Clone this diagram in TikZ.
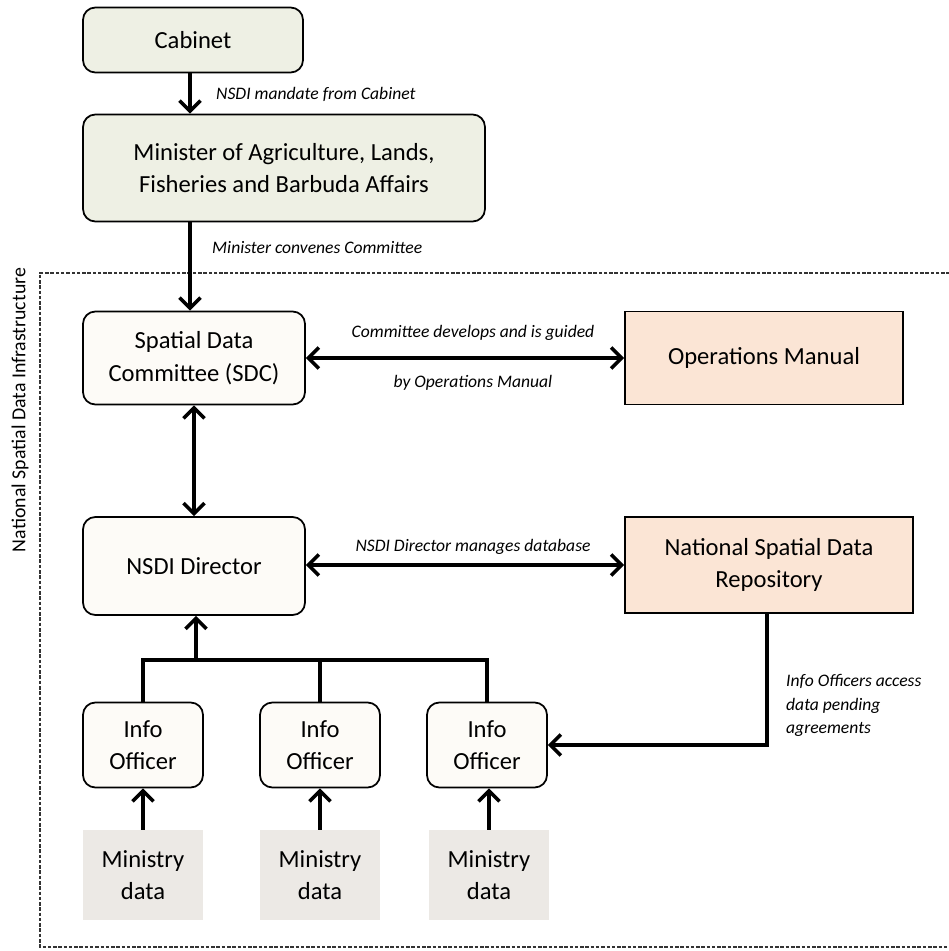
\documentclass[tikz,border=0pt]{standalone}
\usepackage{fontspec}
\setmainfont{Carlito}
\usetikzlibrary{arrows.meta}

\definecolor{govgreen}{HTML}{EEF0E4}
\definecolor{nsdicream}{HTML}{FDFBF7}
\definecolor{docpeach}{HTML}{FBE5D5}
\definecolor{datagray}{HTML}{ECE9E5}

\begin{document}
\begin{tikzpicture}[x=0.02cm, y=-0.02cm,
	every node/.style={align=center, font=\fontsize{14}{18.5}\selectfont},
	govbox/.style={draw, rounded corners=7pt, line width=1pt, fill=govgreen},
	nsdibox/.style={draw, rounded corners=7pt, line width=1pt, fill=nsdicream},
	docbox/.style={draw, line width=1pt, fill=docpeach},
	databox/.style={fill=datagray, minimum width=2.4cm, minimum height=1.8cm},
	lbl/.style={font=\fontsize{10}{13.5}\selectfont\itshape},
	flow/.style={line width=2pt, -{Straight Barb[length=6pt, width=12pt]}},
	twoway/.style={line width=2pt, {Straight Barb[length=6pt, width=12pt]}-{Straight Barb[length=6pt, width=12pt]}}
	]
	\useasboundingbox (0,0) rectangle (948,951);
	
	% Governo
	\node[govbox, minimum width=4.4cm, minimum height=1.3cm] (cab) at (193,40) {Cabinet};
	\node[govbox, minimum width=8.04cm, minimum height=2.14cm] (min) at (284,168) {Minister of Agriculture, Lands,\\Fisheries and Barbuda Affairs};
	\draw[flow] (cab.south -| 190,0) -- (min.north -| 190,0);
	\node[lbl, anchor=west] (l1) at (210,94) {NSDI mandate from Cabinet};
	
	% Infrastruttura (riquadro tratteggiato)
	\draw[gray!40!black, line width=0.6pt, dash pattern=on 2pt off 1pt] (950,273) -- (40,273) -- (40,947) -- (950,947);
	\node[rotate=90, font=\fontsize{11.3}{14}\selectfont] (infra) at (20,410) {National Spatial Data Infrastructure};
	
	% Comitato e manuale
	\node[nsdibox, minimum width=4.44cm, minimum height=1.86cm] (sdc) at (194,358) {Spatial Data\\Committee (SDC)};
	\node[docbox, minimum width=5.56cm, minimum height=1.86cm] (man) at (764,358) {Operations Manual};
	\draw[flow] (min.south -| 190,0) -- (sdc.north -| 190,0);
	\node[lbl, anchor=west] (l2) at (206,248) {Minister convenes Committee};
	\draw[twoway] (sdc) -- (man);
	\node[lbl] (l3) at (473,333) {Committee develops and is guided};
	\node[lbl] (l4) at (473,383) {by Operations Manual};
	
	% Direttore e repository
	\node[nsdibox, minimum width=4.44cm, minimum height=1.96cm] (dir) at (194,566) {NSDI Director};
	\node[docbox, minimum width=5.76cm, minimum height=1.92cm] (repo) at (769,565) {National Spatial Data\\Repository};
	\draw[twoway] (sdc) -- (dir);
	\draw[twoway] (dir.east |- 0,565) -- (repo.west |- 0,565);
	\node[lbl] (l5) at (473,547) {NSDI Director manages database};
	
	% Info officers
	\node[nsdibox, minimum width=2.4cm, minimum height=1.7cm] (off1) at (143,745) {Info\\Officer};
	\node[nsdibox, minimum width=2.4cm, minimum height=1.7cm] (off2) at (320,745) {Info\\Officer};
	\node[nsdibox, minimum width=2.4cm, minimum height=1.7cm] (off3) at (487,745) {Info\\Officer};
	\coordinate (bus) at (196,660);
	\draw[line width=2pt] (off1.north) -- (off1.north |- bus) -- (off3.north |- bus) -- (off3.north);
	\draw[line width=2pt] (off2.north) -- (off2.north |- bus);
	\draw[flow] (bus) -- (bus |- dir.south);
	\draw[flow] (repo.south -| 767,0) |- (off3.east);
	\node[lbl, align=left, anchor=north west] (l6) at (780,668) {Info Officers access\\data pending\\agreements};
	
	% Dati dei ministeri
	\node[databox] (dat1) at (143,875) {Ministry\\data};
	\node[databox] (dat2) at (320,875) {Ministry\\data};
	\node[databox] (dat3) at (489,875) {Ministry\\data};
	\draw[flow] (dat1) -- (off1);
	\draw[flow] (dat2) -- (off2);
	\draw[flow] (dat3) -- (dat3 |- off3.south);
	
\end{tikzpicture}
\end{document}
